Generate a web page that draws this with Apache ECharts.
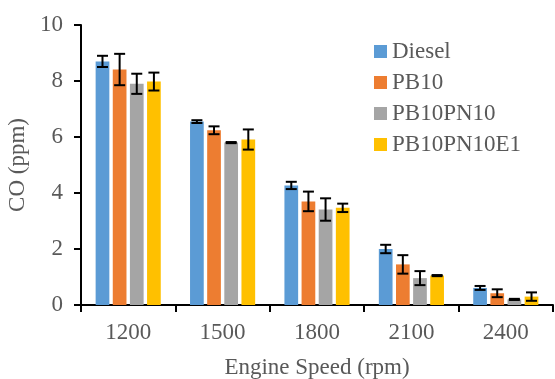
<!DOCTYPE html>
<html>
<head>
<meta charset="utf-8">
<script src="https://cdn.jsdelivr.net/npm/echarts@6/dist/echarts.min.js"></script>
<style>
html,body{margin:0;padding:0;background:#fff;}
#chart{width:555px;height:379px;}
</style>
</head>
<body>
<div id="chart"></div>
<script>
const categories = ['1200', '1500', '1800', '2100', '2400'];
const seriesNames = ['Diesel', 'PB10', 'PB10PN10', 'PB10PN10E1'];
const diesel = [8.70, 6.55, 4.27, 2.00, 0.61];
const pb10 = [8.41, 6.24, 3.70, 1.45, 0.42];
const pb10pn10 = [7.90, 5.80, 3.41, 0.96, 0.20];
const pb10pn10e1 = [7.98, 5.91, 3.47, 1.05, 0.30];
const dieselErr = [0.20, 0.05, 0.13, 0.15, 0.07];
const pb10Err = [0.56, 0.14, 0.35, 0.33, 0.14];
const pb10pn10Err = [0.36, 0.02, 0.40, 0.25, 0.02];
const pb10pn10e1Err = [0.32, 0.36, 0.15, 0.02, 0.15];
const yTicks = [0, 2, 4, 6, 8, 10];

const values = [diesel, pb10, pb10pn10, pb10pn10e1];
const errors = [dieselErr, pb10Err, pb10pn10Err, pb10pn10e1Err];
const colors = ['#5B9BD5', '#ED7D31', '#A5A5A5', '#FFC000'];
const FONT = '"Liberation Serif", "Times New Roman", serif';
const TXT = '#595959';
const CAT_GAP = 0.31, BAR_GAP = 0.25, N = 4;

const series = [];
values.forEach((vals, i) => {
  series.push({
    name: seriesNames[i],
    type: 'bar',
    data: vals,
    itemStyle: { color: colors[i] },
    barGap: (BAR_GAP * 100) + '%',
    barCategoryGap: (CAT_GAP * 100) + '%',
    z: 2
  });
});
values.forEach((vals, i) => {
  series.push({
    type: 'custom',
    name: seriesNames[i] + ' err',
    z: 5,
    silent: true,
    data: vals.map((v, k) => [k, v, errors[i][k]]),
    renderItem: function (params, api) {
      const x = api.value(0), v = api.value(1), e = api.value(2);
      const c = api.coord([x, v]);
      const bandW = api.size([1, 0])[0];
      const groupW = bandW * (1 - CAT_GAP);
      const bw = groupW / (N + (N - 1) * BAR_GAP);
      const cx = c[0] - groupW / 2 + bw / 2 + i * bw * (1 + BAR_GAP);
      const top = api.coord([x, v + e])[1];
      const bot = api.coord([x, v - e])[1];
      const hw = 5.5;
      const st = { stroke: '#000', lineWidth: 2 };
      return {
        type: 'group',
        children: [
          { type: 'line', shape: { x1: cx, y1: top, x2: cx, y2: bot }, style: st },
          { type: 'line', shape: { x1: cx - hw, y1: top, x2: cx + hw, y2: top }, style: st },
          { type: 'line', shape: { x1: cx - hw, y1: bot, x2: cx + hw, y2: bot }, style: st }
        ]
      };
    }
  });
});

const chart = echarts.init(document.getElementById('chart'), null, { renderer: 'canvas' });
chart.setOption({
  animation: false,
  backgroundColor: '#fff',
  textStyle: { fontFamily: FONT },
  grid: { left: 81, right: 2, top: 25, bottom: 74, containLabel: false, outerBoundsMode: 'none' },
  legend: {
    data: seriesNames,
    orient: 'vertical',
    left: 369,
    top: 35,
    itemWidth: 13,
    itemHeight: 13,
    itemGap: 8,
    icon: 'rect',
    textStyle: { fontFamily: FONT, fontSize: 23, color: TXT, lineHeight: 23 }
  },
  xAxis: {
    type: 'category',
    data: categories,
    name: 'Engine Speed (rpm)',
    nameLocation: 'middle',
    nameGap: 51,
    nameTextStyle: { fontFamily: FONT, fontSize: 23, color: TXT },
    axisLine: { lineStyle: { color: '#000', width: 2 } },
    axisTick: { show: true, length: 7, lineStyle: { color: '#000', width: 2 } },
    axisLabel: { fontFamily: FONT, fontSize: 23, color: TXT, margin: 16 }
  },
  yAxis: {
    type: 'value',
    min: yTicks[0],
    max: yTicks[yTicks.length - 1],
    interval: yTicks[1] - yTicks[0],
    name: 'CO (ppm)',
    nameLocation: 'middle',
    nameGap: 47,
    nameTextStyle: { fontFamily: FONT, fontSize: 23, color: TXT },
    axisLine: { show: true, lineStyle: { color: '#000', width: 2 } },
    axisTick: { show: true, length: 7, lineStyle: { color: '#000', width: 2 } },
    axisLabel: { fontFamily: FONT, fontSize: 23, color: TXT, margin: 18 },
    splitLine: { show: false }
  },
  series: series
});
</script>
</body>
</html>
